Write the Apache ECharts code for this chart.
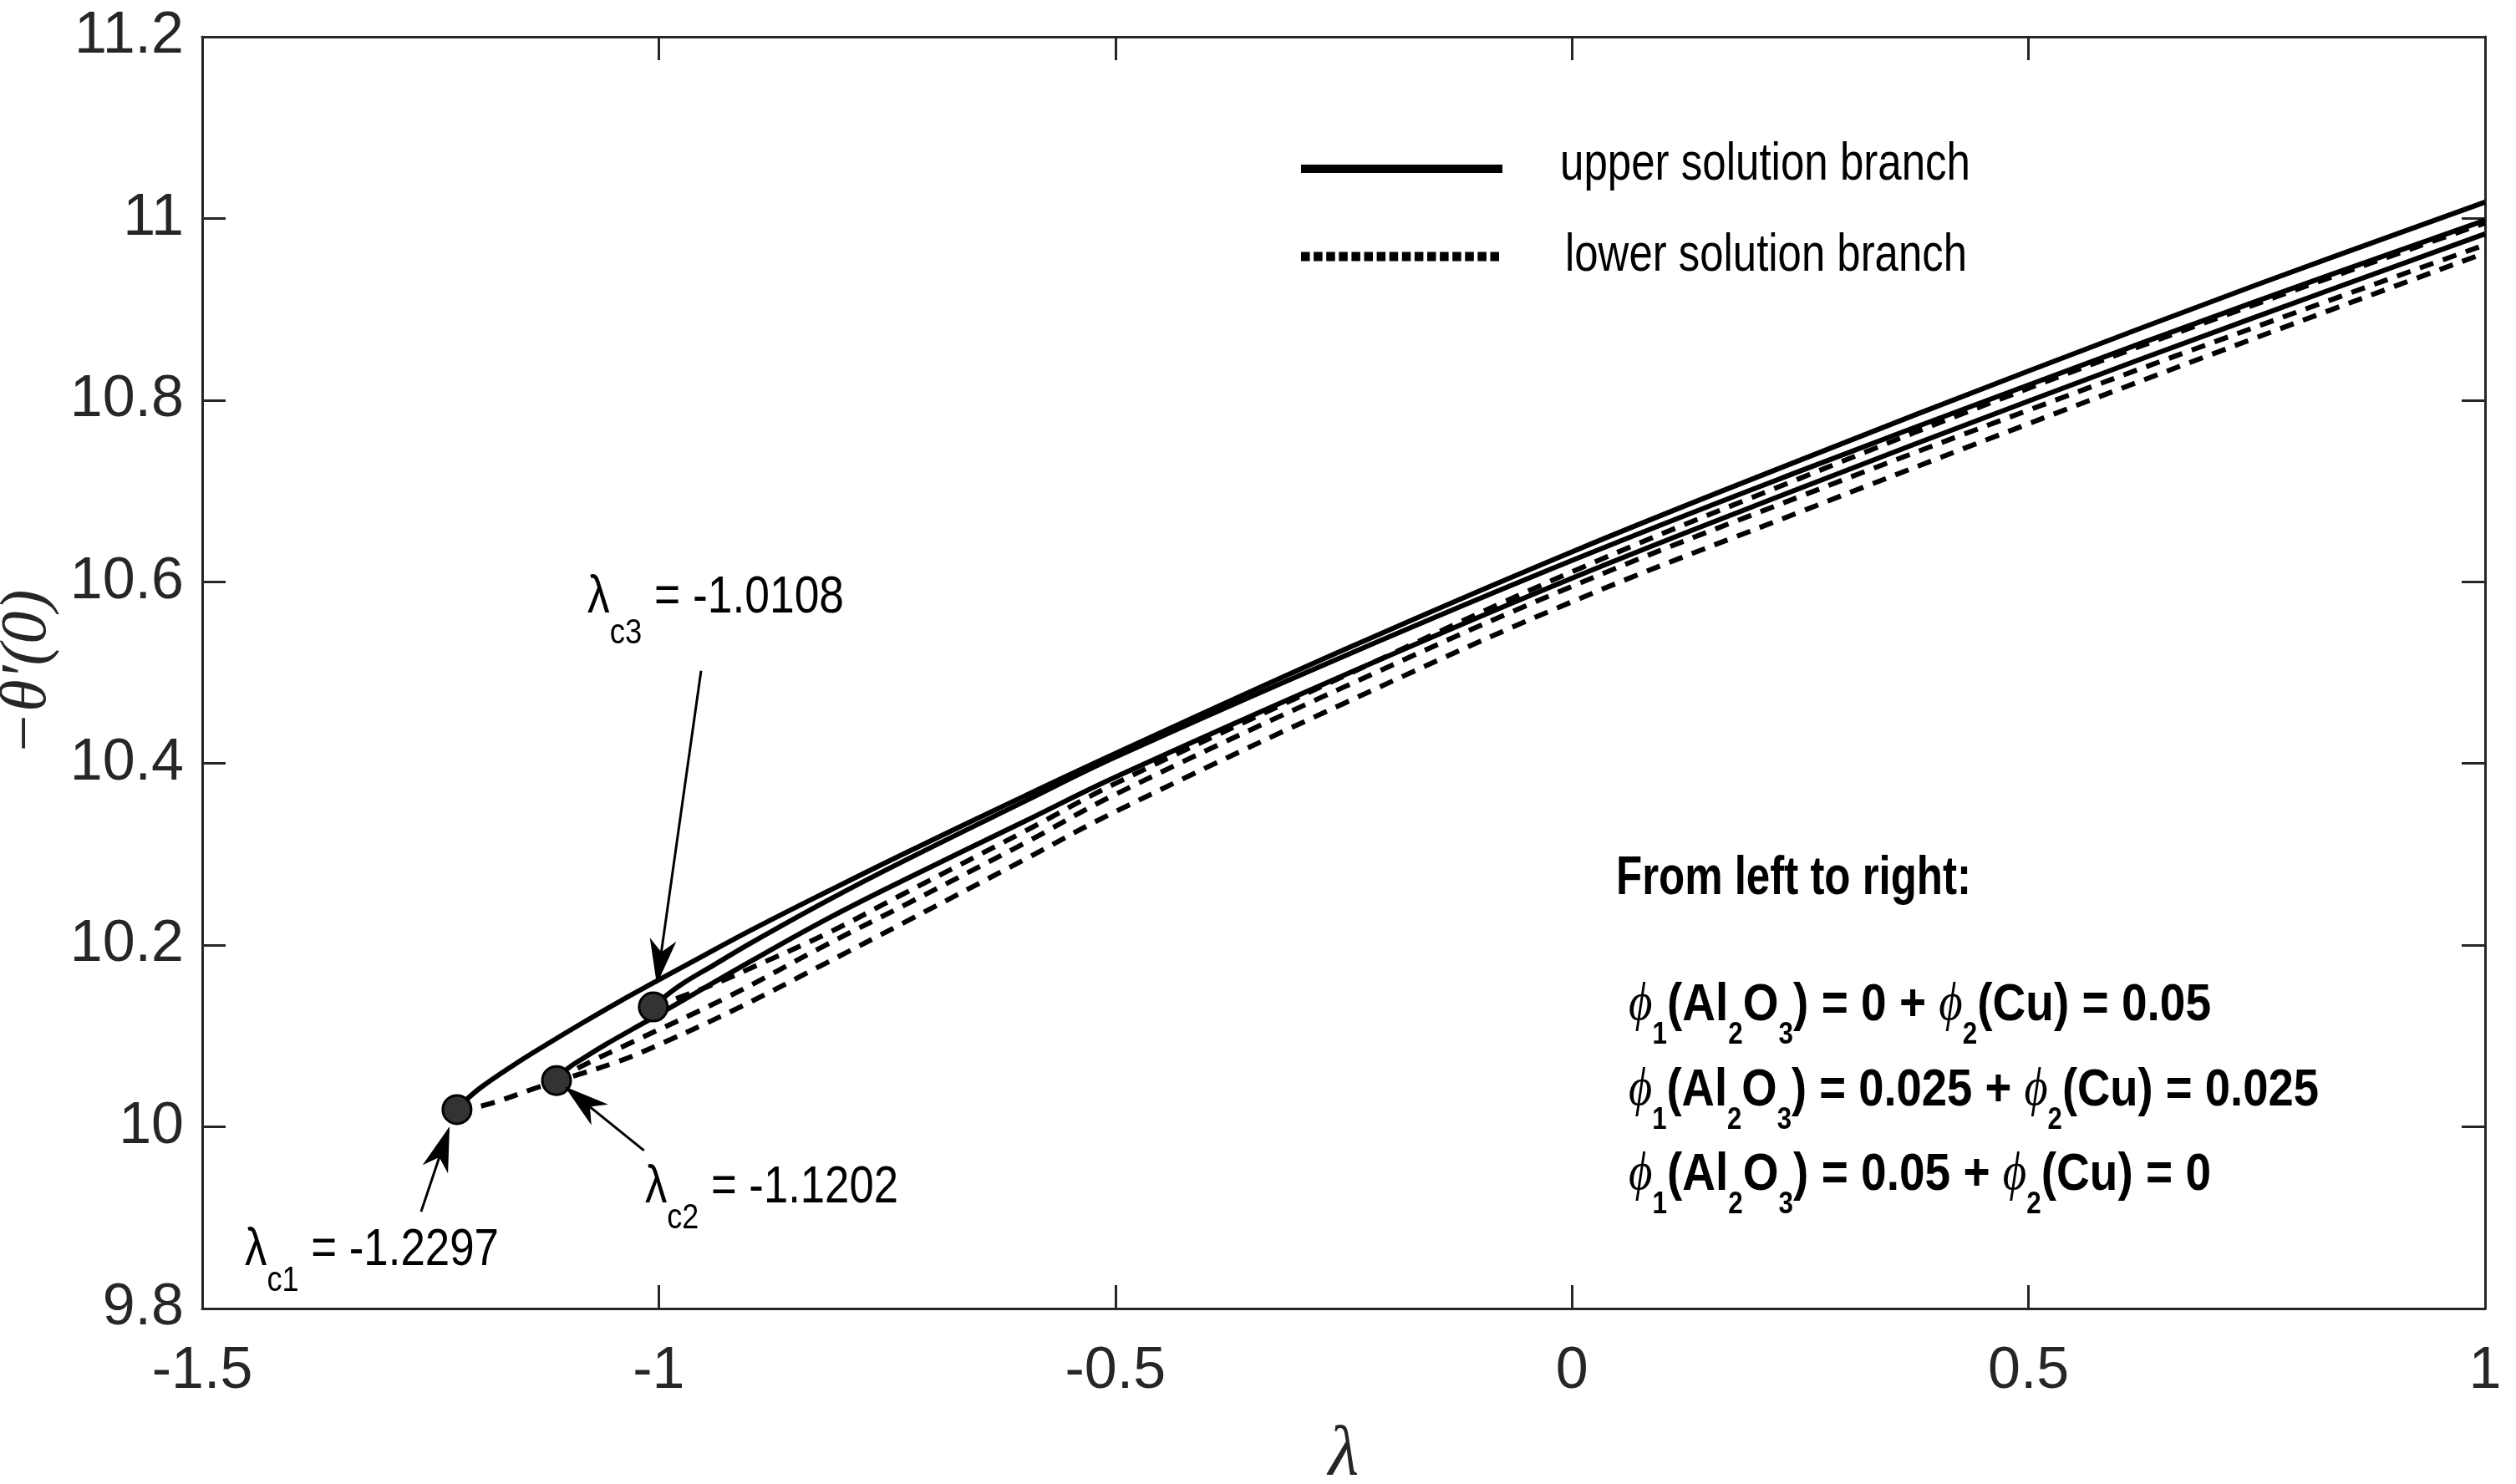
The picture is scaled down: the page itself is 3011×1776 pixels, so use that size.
<!DOCTYPE html>
<html><head><meta charset="utf-8">
<script src="https://cdn.jsdelivr.net/npm/echarts@6/dist/echarts.min.js"></script>
<style>html,body{margin:0;padding:0;background:#fff}#c{width:3011px;height:1776px}</style>
</head><body><div id="c"></div>
<script>
// ---------------- data ----------------
const xTickValues = [-1.5, -1, -0.5, 0, 0.5, 1];
const xTickLabels = ['-1.5', '-1', '-0.5', '0', '0.5', '1'];
const yTickValues = [9.8, 10, 10.2, 10.4, 10.6, 10.8, 11, 11.2];
const yTickLabels = ['9.8', '10', '10.2', '10.4', '10.6', '10.8', '11', '11.2'];

// upper branch, phi1=0 + phi2=0.05 (critical point lambda_c1)
const upper1Lam = [-1.221, -1.2117, -1.194, -1.159, -1.124, -1.086, -1.043, -1.005, -0.95, -0.898, -0.8155, -0.733, -0.6, -0.5, -0.25, 0, 0.25, 0.5, 0.75, 1];
const upper1Val = [10.019, 10.029, 10.044, 10.068, 10.090, 10.113, 10.138, 10.159, 10.189, 10.217, 10.259, 10.300, 10.364, 10.411, 10.525, 10.633, 10.734, 10.832, 10.927, 11.018];
// lower branch, case 1
const lower1Lam = [-1.221, -1.19, -1.131, -1.093, -1.05, -1.019, -0.921, -0.8155, -0.733, -0.6, -0.5, -0.25, 0, 0.25, 0.5, 0.75, 1];
const lower1Val = [10.019, 10.024, 10.044, 10.056, 10.070, 10.082, 10.127, 10.181, 10.224, 10.294, 10.347, 10.466, 10.578, 10.677, 10.774, 10.869, 10.962];

// upper branch, phi1=0.025 + phi2=0.025 (lambda_c2)
const upper2Lam = [-1.112, -1.1, -1.082, -1.0576, -1.0297, -1.005, -0.95, -0.898, -0.8155, -0.733, -0.6, -0.5, -0.25, 0, 0.25, 0.5, 0.75, 1];
const upper2Val = [10.051, 10.064, 10.076, 10.091, 10.107, 10.121, 10.153, 10.183, 10.229, 10.271, 10.336, 10.385, 10.497, 10.604, 10.703, 10.799, 10.892, 10.983];
// lower branch, case 2
const lower2Lam = [-1.112, -1.082, -1.0297, -0.9245, -0.8155, -0.733, -0.6, -0.5, -0.25, 0, 0.25, 0.5, 0.75, 1];
const lower2Val = [10.051, 10.068, 10.093, 10.143, 10.201, 10.243, 10.312, 10.366, 10.484, 10.595, 10.694, 10.789, 10.881, 10.971];

// upper branch, phi1=0.05 + phi2=0 (lambda_c3)
const upper3Lam = [-1.006, -0.995, -0.975, -0.94, -0.898, -0.8155, -0.733, -0.6, -0.5, -0.25, 0, 0.25, 0.5, 0.75, 1];
const upper3Val = [10.132, 10.142, 10.157, 10.178, 10.203, 10.249, 10.292, 10.358, 10.407, 10.518, 10.6235, 10.722, 10.8166, 10.909, 10.998];
// lower branch, case 3
const lower3Lam = [-1.006, -0.968, -0.93, -0.8965, -0.8155, -0.733, -0.6, -0.5, -0.25, 0, 0.25, 0.5, 0.75, 1];
const lower3Val = [10.132, 10.146, 10.161, 10.176, 10.213, 10.256, 10.325, 10.378, 10.496, 10.611, 10.714, 10.813, 10.906, 10.995];

// critical points
const critLam = [-1.221, -1.112, -1.006];
const critVal = [10.019, 10.051, 10.132];
const critText = ['-1.2297', '-1.1202', '-1.0108'];
const critNames = ['c1', 'c2', 'c3'];

const phi1Values = ['0', '0.025', '0.05'];
const phi2Values = ['0.05', '0.025', '0'];
const legendNames = ['upper solution branch', 'lower solution branch'];

// ---------------- fonts ----------------
function hasFont(name) {
  const c = document.createElement('canvas').getContext('2d');
  const s = 'abcdefghijklmnopqrstuvwxyz0123456789';
  c.font = '100px monospace'; const a = c.measureText(s).width;
  c.font = '100px "' + name + '", monospace'; const b = c.measureText(s).width;
  return Math.abs(a - b) > 0.5;
}
const NARROW = hasFont('Liberation Sans Narrow') ? 'Liberation Sans Narrow' : (hasFont('Arial Narrow') ? 'Arial Narrow' : null);
const TICK_FONT = NARROW || 'Liberation Sans';
const TICK_SIZE = NARROW ? 74 : 70;

const mctx = document.createElement('canvas').getContext('2d');
function fontStr(p) {
  return (p.italic ? 'italic ' : '') + (p.bold ? 'bold ' : '') + p.fs + 'px ' + (p.family || '"Liberation Sans"');
}
// lays out a run of text parts between x0 and x1, baseline given
function textRun(x0, x1, baseline, parts) {
  const widths = parts.map(p => { mctx.font = fontStr(p); return mctx.measureText(p.t).width; });
  const total = widths.reduce((a, b) => a + b, 0);
  const s = (x1 - x0) / total;
  let x = x0;
  const els = [];
  parts.forEach((p, i) => {
    const k = p.family && p.family.indexOf('Serif') >= 0 ? 0.3375 : 0.3465;
    els.push({
      type: 'text', x: x, y: baseline + (p.dy || 0) - k * p.fs, scaleX: s, silent: true, z: 100,
      style: { text: p.t, font: fontStr(p), fill: '#000', align: 'left', verticalAlign: 'middle' }
    });
    x += widths[i] * s;
  });
  return els;
}

function pairs(l, v) { return l.map((x, i) => [x, v[i]]); }
function lookup(vals, labels, v) {
  for (let i = 0; i < vals.length; i++) if (Math.abs(vals[i] - v) < 1e-6) return labels[i];
  return '';
}

const AX = '#262626';
const tickCommon = { inside: true, length: 28, lineStyle: { color: AX, width: 3 } };
const lineCommon = { show: true, onZero: false, lineStyle: { color: AX, width: 3 } };

const solidStyle = { color: '#000', width: 6, type: 'solid' };
const dashStyle = { color: '#000', width: 6, type: [17, 12] };
function lineSeries(name, l, v, style) {
  return { type: 'line', name: name, data: pairs(l, v), showSymbol: false, smooth: 0.4,
    lineStyle: style, clip: true, z: 3, silent: true };
}

const chart = echarts.init(document.getElementById('c'));
chart.setOption({
  animation: false,
  backgroundColor: '#fff',
  grid: { left: 242, right: 37, top: 44, bottom: 210, containLabel: false, outerBoundsMode: 'none' },
  xAxis: [
    { type: 'value', min: -1.5, max: 1, interval: 0.5, position: 'bottom',
      axisLine: lineCommon, axisTick: tickCommon, splitLine: { show: false },
      axisLabel: { margin: 41, color: AX, fontSize: TICK_SIZE, fontFamily: TICK_FONT,
        formatter: v => lookup(xTickValues, xTickLabels, v) },
      name: 'λ', nameLocation: 'middle', nameGap: 134,
      nameTextStyle: { fontFamily: 'Liberation Serif', fontStyle: 'italic', fontSize: 84, color: AX } },
    { type: 'value', min: -1.5, max: 1, interval: 0.5, position: 'top',
      axisLine: lineCommon, axisTick: tickCommon, splitLine: { show: false }, axisLabel: { show: false } }
  ],
  yAxis: [
    { type: 'value', min: 9.8, max: 11.2, interval: 0.2, position: 'left',
      axisLine: lineCommon, axisTick: tickCommon, splitLine: { show: false },
      axisLabel: { margin: 22, color: AX, fontSize: TICK_SIZE, fontFamily: TICK_FONT,
        formatter: v => lookup(yTickValues, yTickLabels, v) },
      name: '−θ′(0)', nameLocation: 'middle', nameGap: 124, nameRotate: 90,
      nameTextStyle: { fontFamily: 'Liberation Serif', fontStyle: 'italic', fontSize: 78, color: AX } },
    { type: 'value', min: 9.8, max: 11.2, interval: 0.2, position: 'right',
      axisLine: lineCommon, axisTick: tickCommon, splitLine: { show: false }, axisLabel: { show: false } }
  ],
  series: [
    lineSeries(legendNames[0], upper1Lam, upper1Val, solidStyle),
    lineSeries(legendNames[1], lower1Lam, lower1Val, dashStyle),
    lineSeries(legendNames[0], upper2Lam, upper2Val, solidStyle),
    lineSeries(legendNames[1], lower2Lam, lower2Val, dashStyle),
    lineSeries(legendNames[0], upper3Lam, upper3Val, solidStyle),
    lineSeries(legendNames[1], lower3Lam, lower3Val, dashStyle),
    { type: 'scatter', data: pairs(critLam, critVal), symbol: 'circle', symbolSize: 34, z: 10, silent: true,
      itemStyle: { color: '#333', borderColor: '#000', borderWidth: 3, opacity: 1 } }
  ]
});

// ---------------- annotations ----------------
const g = [];
function px(p) { return chart.convertToPixel({ xAxisIndex: 0, yAxisIndex: 0 }, p); }
function arrow(tail, tip) {
  const a = px(tail), b = px(tip);
  const dx = b[0] - a[0], dy = b[1] - a[1], len = Math.hypot(dx, dy);
  const ux = dx / len, uy = dy / len, nx = -uy, ny = ux;
  const L = 54, W = 32, N = 0.72;
  g.push({ type: 'line', silent: true, z: 90,
    shape: { x1: a[0], y1: a[1], x2: b[0] - ux * L * N, y2: b[1] - uy * L * N },
    style: { stroke: '#000', lineWidth: 3 } });
  g.push({ type: 'polygon', silent: true, z: 91,
    shape: { points: [[b[0], b[1]],
      [b[0] - ux * L + nx * W / 2, b[1] - uy * L + ny * W / 2],
      [b[0] - ux * L * N, b[1] - uy * L * N],
      [b[0] - ux * L - nx * W / 2, b[1] - uy * L - ny * W / 2]] },
    style: { fill: '#000' } });
}
// arrows: tail (label side) -> tip (critical point)
arrow([-1.2603, 9.9066], [-1.2291, 10.0005]);
arrow([-1.0162, 9.974], [-1.1031, 10.0445]);
arrow([-0.9537, 10.502], [-1.0022, 10.157]);

function critLabel(i, x0, x1, base, subDy) {
  g.push(...textRun(x0, x1, base, [
    { t: 'λ', fs: 63 }, { t: critNames[i], fs: 43, dy: subDy }, { t: ' = ' + critText[i], fs: 63 }
  ]));
}
critLabel(0, 293, 597, 1518, 30);
critLabel(1, 772, 1075, 1443, 30);
critLabel(2, 703, 1010, 737, 36);

// legend
g.push({ type: 'line', silent: true, shape: { x1: 1557, y1: 202, x2: 1798, y2: 202 }, style: { stroke: '#000', lineWidth: 10 } });
g.push({ type: 'line', silent: true, shape: { x1: 1557, y1: 307, x2: 1798, y2: 307 }, style: { stroke: '#000', lineWidth: 11, lineDash: [10.5, 4.6] } });
g.push(...textRun(1867, 2358, 219, [{ t: legendNames[0], fs: 63 }]));
g.push(...textRun(1873, 2354, 328, [{ t: legendNames[1], fs: 63 }]));

// composition note
g.push(...textRun(1934, 2359, 1075, [{ t: 'From left to right:', fs: 65, bold: true }]));
const phiEnds = [2646, 2775, 2646];
const phiBase = [1225, 1327, 1428];
const PHI = { t: 'ϕ', fs: 63, italic: true, family: '"Liberation Serif", "DejaVu Serif"' };
for (let i = 0; i < 3; i++) {
  const sub = t => ({ t: t, fs: 36, bold: true, dy: 27 });
  const b = t => ({ t: t, fs: 63, bold: true });
  g.push(...textRun(1949, phiEnds[i], phiBase[i], [
    PHI, sub('1'), b('(Al'), sub('2'), b('O'), sub('3'), b(') = ' + phi1Values[i] + ' + '),
    PHI, sub('2'), b('(Cu) = ' + phi2Values[i])
  ]));
}
chart.setOption({ graphic: g });
</script></body></html>
